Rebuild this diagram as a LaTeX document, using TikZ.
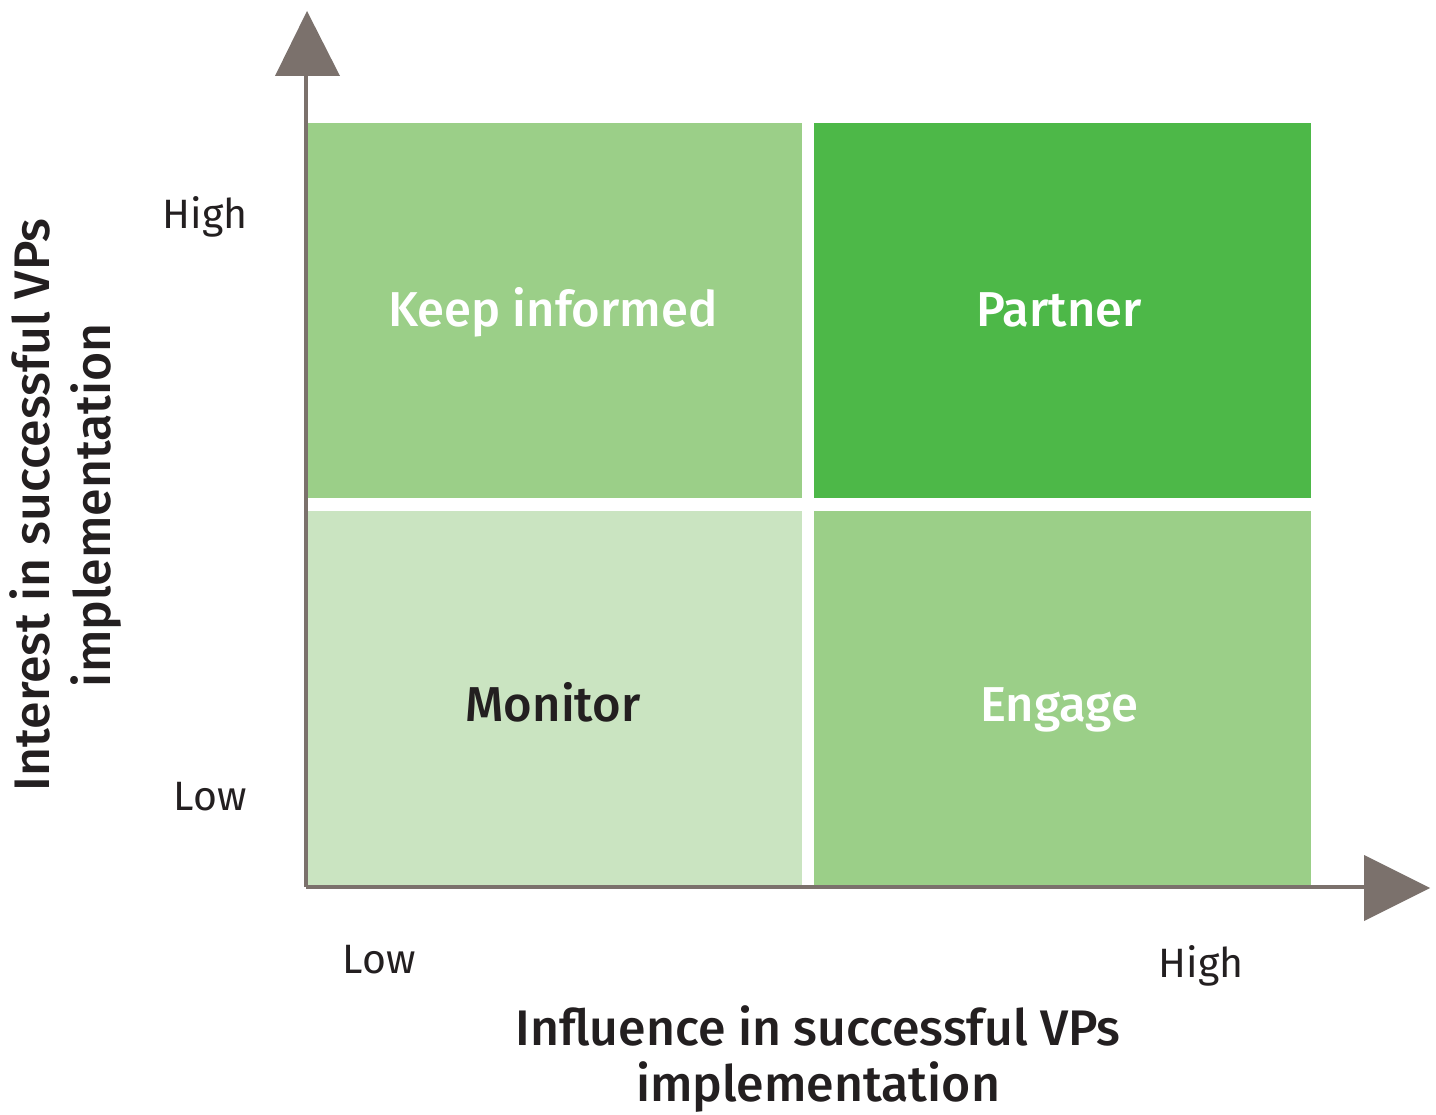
\documentclass[tikz,border=0pt]{standalone}
\usepackage{fontspec}
\setmainfont{Fira Sans}
\newfontfamily\medfont{Fira Sans}[UprightFont=* Medium]
\definecolor{axisgray}{HTML}{7B716C}
\definecolor{midgreen}{HTML}{9BCF88}
\definecolor{darkgreen}{HTML}{4DB848}
\definecolor{palegreen}{HTML}{CAE4C1}
\definecolor{textdark}{HTML}{231F20}
\begin{document}
\begin{tikzpicture}[x=1pt,y=-1pt,
  quad/.style={fill=#1,draw=none},
  qlabel/.style={anchor=base,font=\medfont\fontsize{49}{49}\selectfont,text=#1,inner sep=0pt},
  tick/.style={anchor=base,font=\fontsize{41}{41}\selectfont,text=textdark,inner sep=0pt},
  axlabel/.style={anchor=base,font=\medfont\fontsize{50}{50}\selectfont,text=textdark,inner sep=0pt},
  axline/.style={draw=axisgray,line width=4pt},
  arrowhead/.style={fill=axisgray,draw=none}]
\useasboundingbox (0,0) rectangle (1436,1115);
% quadrants
\fill[quad=midgreen] (308,123) rectangle (802,498);
\fill[quad=darkgreen] (814,123) rectangle (1311,498);
\fill[quad=palegreen] (308,511) rectangle (802,885);
\fill[quad=midgreen] (814,511) rectangle (1311,885);
% axes
\coordinate (origin) at (306,887);
\coordinate (ytop) at (306,74);
\coordinate (xend) at (1366,887);
\draw[axline] (origin) -- (ytop);
\draw[axline] (origin) -- (xend);
\fill[arrowhead] (275,76) -- (307,11) -- (340,76) -- cycle;
\fill[arrowhead] (1364,855) -- (1430,888) -- (1364,921) -- cycle;
% quadrant labels
\node[qlabel=white] (keep) at (553,327) {Keep informed};
\node[qlabel=white] (partner) at (1059,327) {Partner};
\node[qlabel=textdark] (monitor) at (553,721) {Monitor};
\node[qlabel=white] (engage) at (1059,721) {Engage};
% ticks
\node[tick] (yhigh) at (205,229) {High};
\node[tick] (ylow) at (210,810) {Low};
\node[tick] (xlow) at (379,973) {Low};
\node[tick] (xhigh) at (1201,977) {High};
% axis labels
\node[axlabel] (xl1) at (818,1045) {Influence in successful VPs};
\node[axlabel] (xl2) at (818,1101) {implementation};
\node[axlabel,rotate=90] (yl1) at (49,505) {Interest in successful VPs};
\node[axlabel,rotate=90] (yl2) at (110,505) {implementation};
\end{tikzpicture}
\end{document}
